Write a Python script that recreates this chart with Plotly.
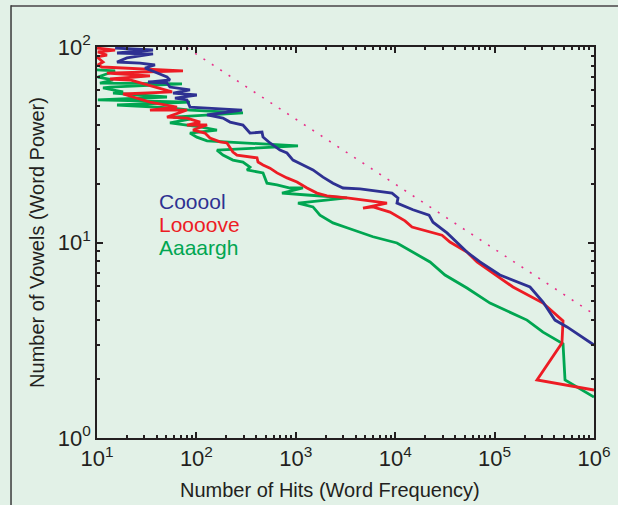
import plotly.graph_objects as go

# ---- data ----
cool_x = [15.2, 36.6, 15.9, 36.6, 20, 15.9, 27.1, 38.3, 30.4, 40.1, 50.6, 54.2, 32.6, 50.6, 54.2, 86.2,
          58.2, 101, 60.9, 80.4, 86.2, 288, 128, 185, 218, 294, 346, 457, 468, 550, 693, 815, 937, 1181,
          1489, 1878, 2366, 2985, 4426, 9290, 10670, 10420, 15100, 21890, 24000, 33190, 52720, 71270,
          113200, 227000, 307000, 405000, 535000, 1e6]
cool_y = [98.8, 96.5, 93.2, 92.1, 87.9, 83.8, 82.8, 80.9, 78.1, 73.6, 70.2, 67.8, 66.2, 65.4, 62.4, 60.3,
          58.1, 56.8, 54.8, 53.6, 49.3, 47.6, 44.9, 43.3, 41.3, 39.9, 36.3, 36.7, 34.6, 32.3, 29.7, 28.7,
          26.4, 24.9, 23.5, 21.6, 20.1, 19.0, 18.8, 17.9, 16.9, 15.9, 14.7, 13.8, 12.7, 11.2, 8.94, 7.95,
          6.82, 5.92, 4.96, 4.01, 3.70, 2.99]

love_x = [10, 15.2, 10.2, 12.6, 10, 11.5, 10.2, 11.2, 73.3, 12.6, 34.1, 13.5, 21.5, 56.9, 18.3, 34.1,
          63.8, 34.1, 80.4, 50.6, 80.4, 109, 80.4, 128, 92.4, 122, 137, 173, 203, 233, 256, 407, 417,
          468, 550, 647, 815, 1028, 1297, 1633, 2060, 3273, 8266, 4743, 5980, 8866, 12550, 14760, 29580,
          35560, 52720, 66510, 96300, 153100, 307000, 488000, 476000, 267000, 1e6]
love_y = [98.8, 96.5, 94.3, 91.0, 88.9, 83.8, 80.9, 79.0, 75.4, 73.6, 71.1, 68.6, 67.8, 58.9, 57.5, 52.3,
          49.3, 47.6, 47.6, 43.8, 43.3, 41.3, 39.9, 39.9, 37.6, 36.3, 34.2, 32.7, 32.3, 29.0, 28.0, 27.1,
          25.8, 24.9, 24.0, 22.7, 21.4, 20.4, 19.0, 17.9, 17.3, 16.9, 15.9, 15.0, 15.2, 14.3, 12.9, 12.0,
          10.9, 10.06, 8.94, 7.95, 6.98, 5.92, 4.90, 3.97, 3.06, 1.98, 1.76]

argh_x = [10, 15.2, 10.2, 14.5, 10.7, 71.6, 13.5, 11.5, 18.3, 14.5, 50.6, 10.2, 86.2, 15.9, 54.2, 86.2,
          294, 58.2, 86.2, 54.2, 109, 161, 86.2, 101, 128, 1052, 161, 185, 233, 294, 346, 323, 468, 513,
          647, 875, 1181, 726, 1297, 3273, 1052, 1489, 1750, 2366, 3273, 5980, 10420, 15100, 22400,
          31700, 52720, 89890, 211800, 307000, 488000, 511000, 1e6]
argh_y = [76.3, 75.4, 70.2, 67.8, 65.4, 64.7, 62.4, 61.7, 58.9, 58.1, 55.5, 53.6, 52.3, 50.5, 48.8, 47.6,
          46.0, 43.8, 42.8, 40.9, 39.0, 37.6, 36.3, 34.6, 33.1, 31.2, 29.7, 28.0, 26.4, 25.8, 24.3, 23.5,
          22.7, 20.1, 19.7, 19.0, 19.0, 17.9, 17.5, 16.9, 15.9, 15.2, 13.8, 12.6, 11.9, 10.7, 9.94, 8.94,
          7.95, 6.82, 5.85, 4.90, 4.01, 3.48, 3.03, 1.98, 1.62]

ref_x = [80, 1e6]
ref_y = [99, 4.3]

series_names = ["Cooool", "Loooove", "Aaaargh"]
x_title = "Number of Hits (Word Frequency)"
y_title = "Number of Vowels (Word Power)"
x_tickvals = [10, 100, 1000, 1e4, 1e5, 1e6]
x_ticktext = ["10<sup>1</sup>", "10<sup>2</sup>", "10<sup>3</sup>", "10<sup>4</sup>", "10<sup>5</sup>", "10<sup>6</sup>"]
y_tickvals = [1, 10, 100]
y_ticktext = ["10<sup>0</sup>", "10<sup>1</sup>", "10<sup>2</sup>"]

BG = "#e2f1e7"
BLUE = "#2e3192"
RED = "#ed1c24"
GREEN = "#00a651"
PINK = "#e8308a"
TXT = "#231f20"
FONT = "Liberation Sans, Arial, Helvetica, sans-serif"

fig = go.Figure()
fig.add_trace(go.Scatter(x=ref_x, y=ref_y, mode="lines",
                         line=dict(color=PINK, width=1.6, dash="2px,8px"), showlegend=False))
for xs, ys, c, n in [(argh_x, argh_y, GREEN, series_names[2]),
                     (love_x, love_y, RED, series_names[1]),
                     (cool_x, cool_y, BLUE, series_names[0])]:
    fig.add_trace(go.Scatter(x=xs, y=ys, mode="lines", name=n,
                             line=dict(color=c, width=2.8), showlegend=False))

minor_x = [m * 10 ** e for e in range(1, 6) for m in range(2, 10)]
minor_y = [m * 10 ** e for e in range(0, 2) for m in range(2, 10)]

fig.update_xaxes(type="log", range=[1, 6], tickmode="array", tickvals=x_tickvals, ticktext=x_ticktext,
                 ticks="inside", ticklen=6, tickwidth=1.5, tickcolor=TXT, showline=True, linecolor=TXT,
                 linewidth=1.8, mirror="ticks", showgrid=False, zeroline=False, automargin=False,
                 minor=dict(tickmode="array", tickvals=minor_x, ticks="inside", ticklen=3, tickcolor=TXT, showgrid=False),
                 tickfont=dict(size=22, color=TXT, family=FONT))
fig.update_yaxes(type="log", range=[0, 2], tickmode="array", tickvals=y_tickvals, ticktext=y_ticktext,
                 ticks="inside", ticklen=6, tickwidth=1.5, tickcolor=TXT, showline=True, linecolor=TXT,
                 linewidth=1.8, mirror="ticks", showgrid=False, zeroline=False, automargin=False,
                 minor=dict(tickmode="array", tickvals=minor_y, ticks="inside", ticklen=3, tickcolor=TXT, showgrid=False),
                 tickfont=dict(size=22, color=TXT, family=FONT),
                 title=dict(text=y_title, font=dict(size=20, color=TXT, family=FONT), standoff=8))

# x-axis title (slightly left of the plot centre, as in the reference)
fig.add_annotation(x=0.469, y=-0.133, xref="paper", yref="paper", text=x_title, showarrow=False,
                   xanchor="center", yanchor="middle", font=dict(size=20, color=TXT, family=FONT))

for i, (n, c) in enumerate(zip(series_names, [BLUE, RED, GREEN])):
    fig.add_annotation(x=0.12, y=0.605 - i * 0.059, xref="paper", yref="paper", text=n, showarrow=False,
                       xanchor="left", yanchor="middle", font=dict(size=21, color=c, family=FONT))

# panel frame (top and left edges)
fig.add_shape(type="line", xref="paper", yref="paper", x0=-0.173, x1=1.06, y0=1.105, y1=1.105,
              line=dict(color="#6f6f6f", width=2))
fig.add_shape(type="line", xref="paper", yref="paper", x0=-0.173, x1=-0.173, y0=1.107, y1=-0.2,
              line=dict(color="#3a3a3a", width=1.5))

fig.update_layout(width=618, height=505, margin=dict(l=97, r=24, t=47, b=67, autoexpand=False),
                  paper_bgcolor=BG, plot_bgcolor=BG, showlegend=False,
                  font=dict(family=FONT, color=TXT))

fig.write_html("out.html", config={"displayModeBar": False},
               post_script="document.body.style.margin='0px';document.body.style.overflow='hidden';")
